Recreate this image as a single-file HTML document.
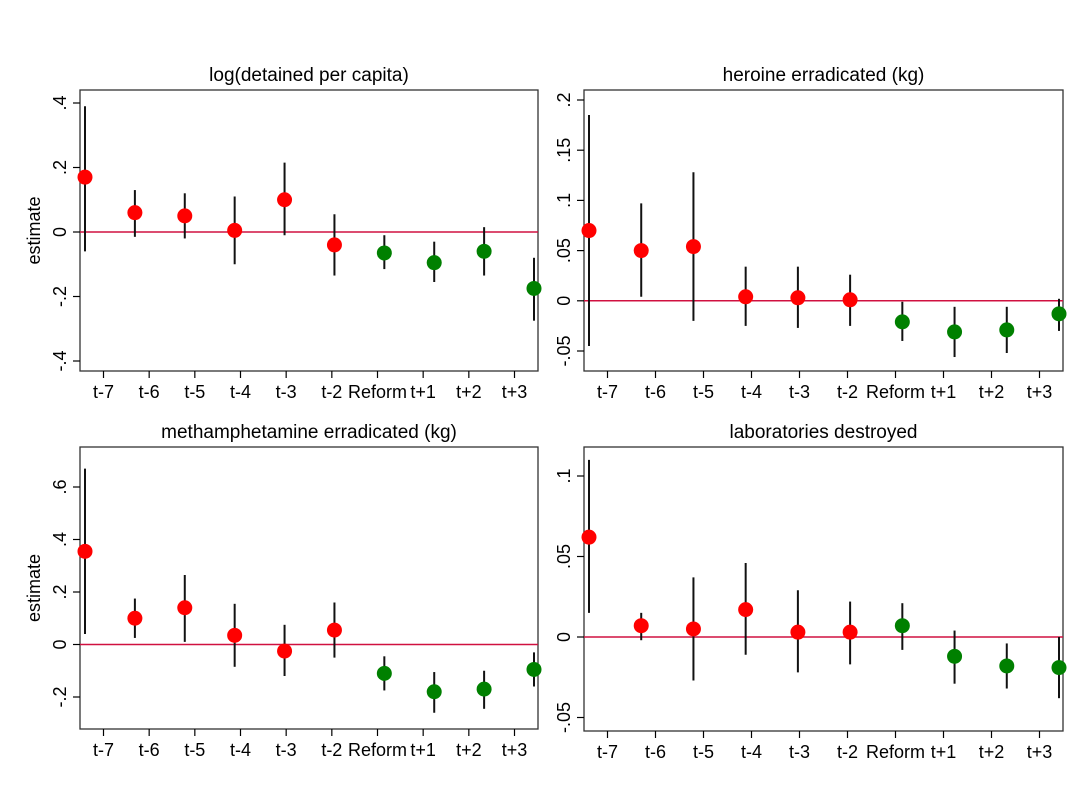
<!DOCTYPE html>
<html><head><meta charset="utf-8"><style>
body{margin:0;background:#fff;}
svg text{font-family:"Liberation Sans",Arial,sans-serif;fill:#000;}
</style></head><body>
<svg id="c" width="1084" height="788"></svg>
<script>
const categories=["t-7","t-6","t-5","t-4","t-3","t-2","Reform","t+1","t+2","t+3"];
const isPost=[0,0,0,0,0,0,1,1,1,1];
const titles=["log(detained per capita)","heroine erradicated (kg)","methamphetamine erradicated (kg)","laboratories destroyed"];
const est1=[0.17,0.06,0.05,0.005,0.10,-0.04,-0.065,-0.095,-0.06,-0.175];
const lo1=[-0.06,-0.015,-0.02,-0.10,-0.01,-0.135,-0.115,-0.155,-0.135,-0.275];
const hi1=[0.39,0.13,0.12,0.11,0.215,0.055,-0.01,-0.03,0.015,-0.08];
const est2=[0.07,0.05,0.054,0.004,0.003,0.001,-0.021,-0.031,-0.029,-0.013];
const lo2=[-0.045,0.004,-0.02,-0.025,-0.027,-0.025,-0.04,-0.056,-0.052,-0.03];
const hi2=[0.185,0.097,0.128,0.034,0.034,0.026,-0.001,-0.006,-0.006,0.002];
const est3=[0.355,0.10,0.14,0.035,-0.025,0.055,-0.11,-0.18,-0.17,-0.095];
const lo3=[0.04,0.025,0.01,-0.085,-0.12,-0.05,-0.175,-0.26,-0.245,-0.16];
const hi3=[0.67,0.175,0.265,0.155,0.075,0.16,-0.045,-0.105,-0.10,-0.03];
const est4=[0.062,0.007,0.005,0.017,0.003,0.003,0.007,-0.012,-0.018,-0.019];
const lo4=[0.015,-0.002,-0.027,-0.011,-0.022,-0.017,-0.008,-0.029,-0.032,-0.038];
const hi4=[0.11,0.015,0.037,0.046,0.029,0.022,0.021,0.004,-0.004,0];
const ticks1=[0.4,0.2,0,-0.2,-0.4], tl1=[".4",".2","0","-.2","-.4"];
const ticks2=[0.2,0.15,0.1,0.05,0,-0.05], tl2=[".2",".15",".1",".05","0","-.05"];
const ticks3=[0.6,0.4,0.2,0,-0.2], tl3=[".6",".4",".2","0","-.2"];
const ticks4=[0.1,0.05,0,-0.05], tl4=[".1",".05","0","-.05"];
const panels=[
 {x0:80,x1:538,y0:90,y1:371,v0:0.4,p0:103,v1:-0.4,p1:361,est:est1,lo:lo1,hi:hi1,ticks:ticks1,tl:tl1,ylab:true},
 {x0:584,x1:1063,y0:90,y1:371,v0:0.2,p0:100,v1:-0.05,p1:351,est:est2,lo:lo2,hi:hi2,ticks:ticks2,tl:tl2,ylab:false},
 {x0:80,x1:538,y0:447,y1:729,v0:0.6,p0:487,v1:-0.2,p1:697,est:est3,lo:lo3,hi:hi3,ticks:ticks3,tl:tl3,ylab:true},
 {x0:584,x1:1063,y0:447,y1:731,v0:0.1,p0:476,v1:-0.05,p1:717.5,est:est4,lo:lo4,hi:hi4,ticks:ticks4,tl:tl4,ylab:false}
];
const svg=document.getElementById('c');const NS='http://www.w3.org/2000/svg';
function mk(t,a,p){const e=document.createElementNS(NS,t);for(const k in a)e.setAttribute(k,a[k]);(p||svg).appendChild(e);return e;}
panels.forEach((P,pi)=>{
 const g=mk('g',{});
 
 
 const y=v=>P.p0+(v-P.v0)*(P.p1-P.p0)/(P.v1-P.v0);
 const n=categories.length;
 const px=i=>(P.x0+5)+i*((P.x1-4)-(P.x0+5))/(n-1);
 const tx=i=>(P.x0+23.5)+i*((P.x1-23.5)-(P.x0+23.5))/(n-1);
 const t=mk('text',{x:(P.x0+P.x1)/2,y:P.y0-9,'text-anchor':'middle','font-size':19},g);t.textContent=titles[pi];
 
 
 mk('rect',{x:P.x0,y:P.y0,width:P.x1-P.x0,height:P.y1-P.y0,fill:'none',stroke:'#333','stroke-width':1.3},g);
 P.ticks.forEach((v,k)=>{
  const yy=y(v);mk('line',{x1:P.x0-7,x2:P.x0,y1:yy,y2:yy,stroke:'#000','stroke-width':1.2},g);
  const l=mk('text',{x:0,y:0,'text-anchor':'middle','font-size':18,transform:`translate(${P.x0-14},${yy}) rotate(-90)`},g);l.textContent=P.tl[k];
  
  
 });
 if(P.ylab){const l=mk('text',{x:0,y:0,'text-anchor':'middle','font-size':18,transform:`translate(40,${(P.y0+P.y1)/2}) rotate(-90)`},g);l.textContent='estimate';
  
  }
 categories.forEach((c,i)=>{
  const xx=tx(i);mk('line',{x1:xx,x2:xx,y1:P.y1,y2:P.y1+7,stroke:'#000','stroke-width':1.2},g);
  const l=mk('text',{x:xx,y:P.y1+27,'text-anchor':'middle','font-size':18},g);l.textContent=c;
  
  
 });
 mk('line',{x1:P.x0,x2:P.x1,y1:y(0),y2:y(0),stroke:'#d01040','stroke-width':1.5},g);
 P.est.forEach((v,i)=>{
  const e=mk('line',{x1:px(i),x2:px(i),y1:y(P.lo[i]),y2:y(P.hi[i]),stroke:'#111','stroke-width':2},g);
  
  
  const d=mk('circle',{cx:px(i),cy:y(v),r:7.5,fill:isPost[i]?'#008000':'#ff0000'},g);
  
  
 });
});
</script>
</body></html>
